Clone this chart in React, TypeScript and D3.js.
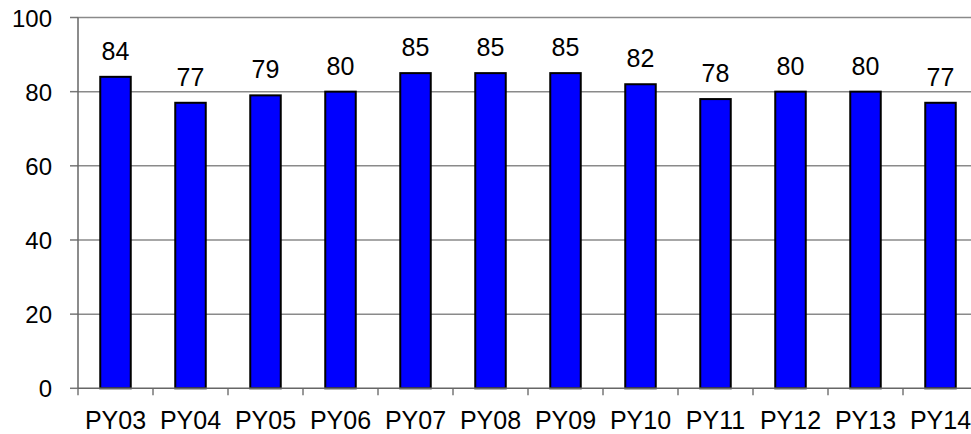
import React from "react";
import * as d3 from "d3";

const categories = ["PY03", "PY04", "PY05", "PY06", "PY07", "PY08", "PY09", "PY10", "PY11", "PY12", "PY13", "PY14"];
const values = [84, 77, 79, 80, 85, 85, 85, 82, 78, 80, 80, 77];
const yTicks = [0, 20, 40, 60, 80, 100];

const W = 971;
const H = 434;
const left = 78;
const top = 17.5;
const bottom = 388.3;
const catW = 75;
const right = left + catW * categories.length;

export default function App() {
  const x = d3.scaleBand<string>().domain(categories).range([left, right]).paddingInner(0).paddingOuter(0);
  const y = d3.scaleLinear().domain([0, 100]).range([bottom, top]);
  const bw = 30.5;
  const font = "Arial, 'Liberation Sans', sans-serif";
  const fs = 25;
  return (
    <svg width={W} height={H} style={{ position: "absolute", left: 0, top: 0 }} fontFamily={font}>
      <rect x={0} y={0} width={W} height={H} fill="#fff" />
      {yTicks.map((t) => (
        <g key={t}>
          {t > 0 && <line x1={left} x2={W} y1={y(t)} y2={y(t)} stroke="#8a8a8a" strokeWidth={1.5} />}
          <line x1={left - 8} x2={left} y1={y(t)} y2={y(t)} stroke="#777" strokeWidth={1.5} />
          <text x={52} y={y(t) + 9} textAnchor="end" fontSize={24} fill="#000">{t}</text>
        </g>
      ))}
      {categories.map((c, i) => {
        const cx = (x(c) as number) + x.bandwidth() / 2;
        return (
          <g key={c}>
            <rect x={cx - bw / 2} y={y(values[i])} width={bw} height={bottom - y(values[i])} fill="#0000ff" stroke="#000" strokeWidth={2} />
            <text x={cx} y={y(values[i]) - 17} textAnchor="middle" fontSize={fs} fill="#000">{values[i]}</text>
            <text x={cx} y={429} textAnchor="middle" fontSize={fs} fill="#000">{c}</text>
          </g>
        );
      })}
      {d3.range(categories.length + 1).map((k) => (
        <line key={k} x1={left + k * catW} x2={left + k * catW} y1={bottom} y2={bottom + 7} stroke="#777" strokeWidth={1.5} />
      ))}
      <line x1={left} x2={left} y1={top} y2={bottom} stroke="#666" strokeWidth={1.5} />
      <line x1={left} x2={W} y1={bottom} y2={bottom} stroke="#666" strokeWidth={1.5} />
    </svg>
  );
}
